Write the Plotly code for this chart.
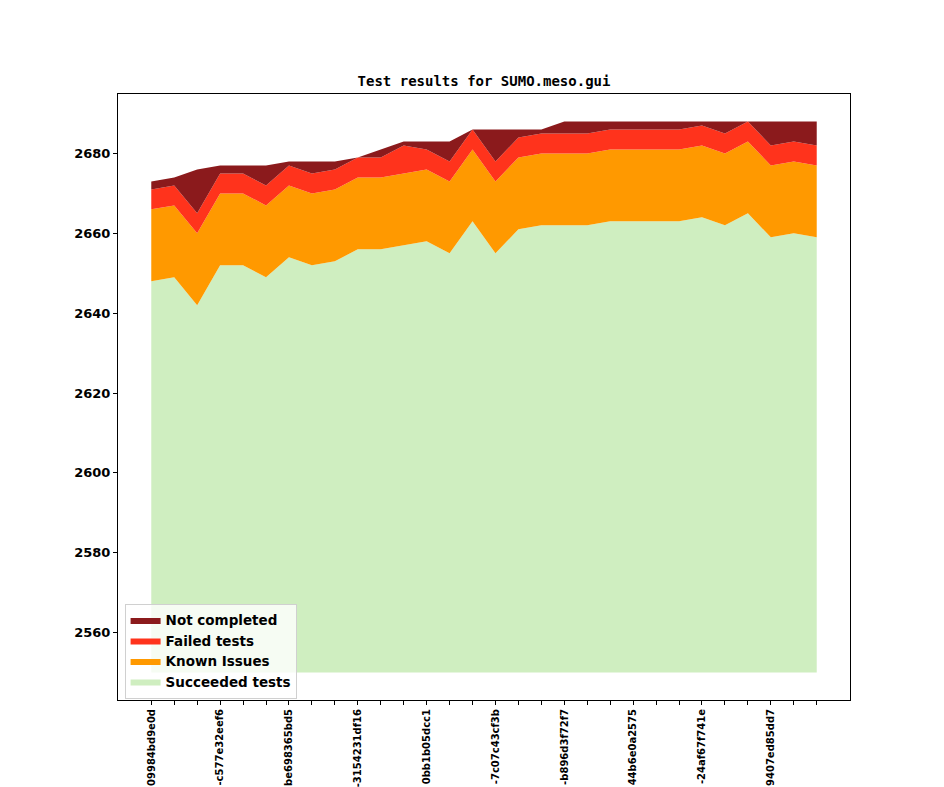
import numpy as np
import plotly.graph_objects as go

# ---- data ----
BASELINE = 2550
succeeded = [2648, 2649, 2642, 2652, 2652, 2649, 2654, 2652, 2653, 2656,
             2656, 2657, 2658, 2655, 2663, 2655, 2661, 2662, 2662, 2662,
             2663, 2663, 2663, 2663, 2664, 2662, 2665, 2659, 2660, 2659]
known_issues = [18] * 30
failed = [5, 5, 5, 5, 5, 5, 5, 5, 5, 5,
          5, 7, 5, 5, 5, 5, 5, 5, 5, 5,
          5, 5, 5, 5, 5, 5, 5, 5, 5, 5]
not_completed = [2, 2, 11, 2, 2, 5, 1, 3, 2, 0,
                 2, 1, 2, 5, 0, 8, 2, 1, 3, 3,
                 2, 2, 2, 2, 1, 3, 0, 6, 5, 6]
tick_labels = ["09984bd9e0d", "-c577e32eef6", "be698365bd5", "-3154231df16",
               "0bb1b05dcc1", "-7c07c43cf3b", "-b896d3f72f7", "44b6e0a2575",
               "-24af67f741e", "9407ed85dd7"]
tick_step = 3
y_ticks = [2560, 2580, 2600, 2620, 2640, 2660, 2680]

series_names = ["Succeeded tests", "Known Issues", "Failed tests", "Not completed"]
series_colors = ["#CFEEC0", "#FF9900", "#FF331C", "#8B1A1C"]

# ---- build ----
x = np.arange(len(succeeded))
layers = [np.array(succeeded), np.array(known_issues), np.array(failed), np.array(not_completed)]
levels = [layers[0]]
for arr in layers[1:]:
    levels.append(levels[-1] + arr)

all_ticktext = []
for i in range(len(x)):
    all_ticktext.append(tick_labels[i // tick_step] if i % tick_step == 0 else "")

fig = go.Figure()
fig.add_trace(go.Scatter(x=x, y=np.full(len(x), BASELINE), mode="lines",
                         line=dict(width=0, color="rgba(0,0,0,0)"),
                         showlegend=False, hoverinfo="skip"))
for name, color, lvl in zip(series_names, series_colors, levels):
    fig.add_trace(go.Scatter(x=x, y=lvl, mode="lines", name=name,
                             fill="tonexty", fillcolor=color,
                             line=dict(width=0, color=color)))

n = len(x)
xr = [-(n - 1) * 0.05, (n - 1) * 1.05]
lo, hi = BASELINE, int(levels[-1].max())
pad = (hi - lo) * 0.05
yr = [lo - pad, hi + pad]

# page body has an 8px margin: figure is drawn 8px right/down
W, H = 936, 779
tickfont = dict(family="DejaVu Sans", size=13, color="black", weight="bold")
fig.update_layout(
    width=W, height=H,
    margin=dict(l=110, r=94, t=86, b=87),
    paper_bgcolor="white", plot_bgcolor="white",
    title=dict(text="Test results for SUMO.meso.gui",
               font=dict(family="DejaVu Sans Mono", size=14, color="black", weight="bold"),
               x=0.5, xref="paper", xanchor="center",
               y=1 - 73 / H, yref="container", yanchor="middle"),
    showlegend=True,
    legend=dict(traceorder="reversed", x=0.009, y=0.159, xanchor="left", yanchor="top",
                bgcolor="rgba(255,255,255,0.8)", bordercolor="#d0d0d0", borderwidth=1,
                font=dict(family="DejaVu Sans", size=13.5, color="black", weight="bold"),
                itemwidth=30, tracegroupgap=0),
    xaxis=dict(range=xr, showgrid=False, zeroline=False,
               showline=True, mirror=True, linecolor="black", linewidth=1,
               tickmode="array", tickvals=list(x), ticktext=all_ticktext,
               ticks="outside", ticklen=4, tickcolor="black", tickangle=-90,
               tickfont=dict(family="DejaVu Sans", size=10, color="black", weight="bold"),
               automargin=False),
    yaxis=dict(range=yr, showgrid=False, zeroline=False,
               showline=True, mirror=True, linecolor="black", linewidth=1,
               tickmode="array", tickvals=y_ticks,
               ticks="outside", ticklen=4, tickcolor="black",
               tickfont=tickfont, automargin=False),
)

fig.write_html("out.html")
